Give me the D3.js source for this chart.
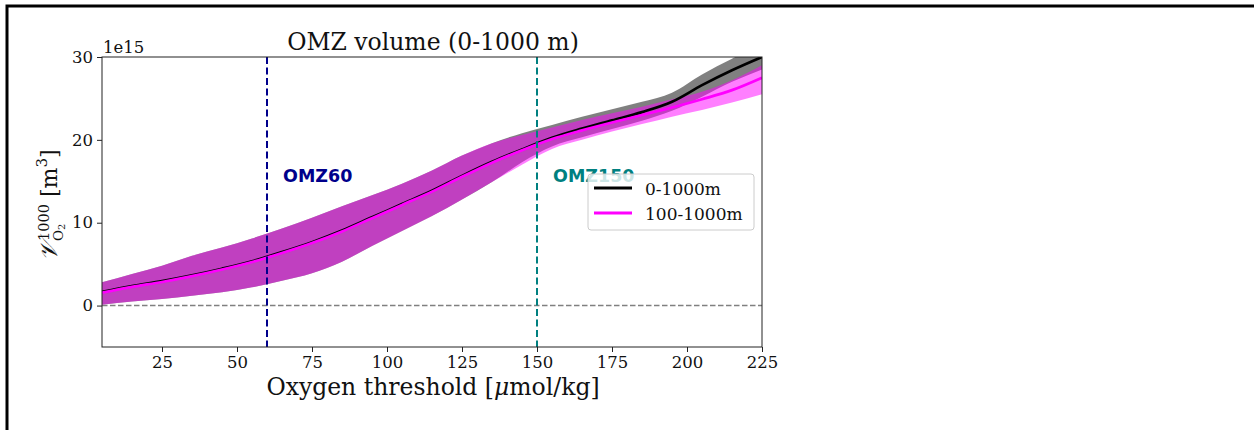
<!DOCTYPE html>
<html>
<head>
<meta charset="utf-8">
<script src="https://cdn.jsdelivr.net/npm/d3@7"></script>
<style>
  html, body { margin: 0; padding: 0; background: #fff; }
  svg { display: block; }
</style>
</head>
<body>
<div id="chart"></div>
<script>
// --- data (values in 1e15 m^3) ---
const thresholds = [5, 15, 25, 35, 45, 55, 65, 75, 85, 95, 105, 115, 125, 135, 145, 155, 165, 175, 185, 195, 205, 215, 225];

// 0-1000m
const fullMean  = [1.65, 2.35, 2.95, 3.65, 4.45, 5.35, 6.45, 7.65, 9.05, 10.65, 12.25, 13.85, 15.65, 17.35, 18.85, 20.25, 21.35, 22.35, 23.35, 24.6, 26.6, 28.4, 30.0];
const fullLow   = [0.1, 0.5, 0.8, 1.2, 1.6, 2.2, 3.0, 3.9, 5.3, 7.2, 9.0, 10.8, 12.8, 14.9, 17.3, 19.2, 20.3, 21.3, 22.3, 23.5, 25.2, 27.0, 28.5];
const fullHigh  = [2.8, 3.8, 4.8, 6.0, 7.0, 8.1, 9.3, 10.6, 12.0, 13.3, 14.7, 16.3, 18.1, 19.6, 20.8, 21.8, 22.8, 23.7, 24.6, 25.7, 27.9, 29.8, 31.5];

// 100-1000m
const subMean   = [1.55, 2.25, 2.85, 3.55, 4.35, 5.25, 6.35, 7.55, 8.95, 10.55, 12.15, 13.75, 15.55, 17.25, 18.75, 20.1, 21.15, 22.1, 23.0, 23.9, 24.9, 26.0, 27.5];
const subLow    = [0.1, 0.5, 0.8, 1.2, 1.6, 2.2, 3.0, 3.9, 5.3, 7.2, 9.0, 10.8, 12.8, 14.9, 17.0, 18.9, 20.0, 21.0, 21.9, 22.8, 23.6, 24.5, 25.5];
const subHigh   = [2.8, 3.8, 4.8, 6.0, 7.0, 8.1, 9.3, 10.6, 12.0, 13.3, 14.7, 16.3, 18.1, 19.6, 20.6, 21.5, 22.4, 23.2, 24.0, 24.9, 25.8, 27.2, 29.0];

const xTicks = [25, 50, 75, 100, 125, 150, 175, 200, 225];
const yTicks = [0, 10, 20, 30];
const omzLines = [60, 150];
const omzNames = ["OMZ60", "OMZ150"];
const omzColors = ["#00008b", "#008080"];
const legendNames = ["0-1000m", "100-1000m"];
const legendColors = ["#000000", "#ff00ff"];

// --- layout ---
const W = 1254, H = 430;
const axL = 102, axR = 762, axT = 57, axB = 347;
const serif = "'DejaVu Serif', serif";
const sans = "'DejaVu Sans', sans-serif";

const svg = d3.select("#chart").append("svg").attr("width", W).attr("height", H);

// outer frame
svg.append("rect").attr("x", 7).attr("y", 6).attr("width", W + 20).attr("height", H + 20)
   .attr("fill", "none").attr("stroke", "#000").attr("stroke-width", 3);

const x = d3.scaleLinear().domain([5, 225]).range([axL, axR]);
const y = d3.scaleLinear().domain([-5, 30]).range([axB, axT]);

const plot = svg.append("g");
plot.append("clipPath").attr("id", "clip")
    .append("rect").attr("x", axL).attr("y", axT).attr("width", axR - axL).attr("height", axB - axT);
const area = plot.append("g").attr("clip-path", "url(#clip)");

// zero line
area.append("line").attr("x1", axL).attr("x2", axR).attr("y1", y(0)).attr("y2", y(0))
    .attr("stroke", "#808080").attr("stroke-width", 1.5).attr("stroke-dasharray", "5.5,2.5");

function band(lo, hi) {
    return d3.area().x((d, i) => x(thresholds[i])).y0((d, i) => y(lo[i])).y1((d, i) => y(hi[i]))
             .curve(d3.curveMonotoneX)(thresholds);
}
function line(vals) {
    return d3.line().x((d, i) => x(thresholds[i])).y((d, i) => y(vals[i]))
             .curve(d3.curveMonotoneX)(thresholds);
}

area.append("path").attr("d", band(fullLow, fullHigh)).attr("fill", "#808080");
area.append("path").attr("d", band(subLow, subHigh)).attr("fill", "#ff00ff").attr("fill-opacity", 0.5);
area.append("path").attr("d", line(fullMean)).attr("fill", "none").attr("stroke", "#000").attr("stroke-width", 2.7);
area.append("path").attr("d", line(subMean)).attr("fill", "none").attr("stroke", "#ff00ff").attr("stroke-width", 2.7);

// OMZ threshold lines
omzLines.forEach((v, i) => {
    area.append("line").attr("x1", x(v)).attr("x2", x(v)).attr("y1", axT).attr("y2", axB)
        .attr("stroke", omzColors[i]).attr("stroke-width", 2).attr("stroke-dasharray", "7,3.5");
    plot.append("text").attr("x", x(v) + 16).attr("y", 182)
        .attr("font-family", sans).attr("font-weight", "bold").attr("font-size", 17.5)
        .attr("fill", omzColors[i]).text(omzNames[i]);
});

// spines
plot.append("rect").attr("x", axL).attr("y", axT).attr("width", axR - axL).attr("height", axB - axT)
    .attr("fill", "none").attr("stroke", "#222").attr("stroke-width", 1);

// axes
const xAxis = svg.append("g").attr("transform", `translate(0,${axB})`)
    .call(d3.axisBottom(x).tickValues(xTicks).tickSize(5).tickPadding(4));
const yAxis = svg.append("g").attr("transform", `translate(${axL},0)`)
    .call(d3.axisLeft(y).tickValues(yTicks).tickSize(5).tickPadding(4));
[xAxis, yAxis].forEach(a => {
    a.select(".domain").remove();
    a.selectAll(".tick line").attr("stroke", "#222").attr("stroke-width", 1);
    a.selectAll(".tick text").attr("font-family", serif).attr("font-size", 16.5).attr("fill", "#111");
});

svg.append("text").attr("x", axL + 1).attr("y", 53).attr("font-family", serif).attr("font-size", 16.5)
   .attr("fill", "#111").text("1e15");

// title
svg.append("text").attr("x", 433).attr("y", 50).attr("text-anchor", "middle")
   .attr("font-family", serif).attr("font-size", 23.5).attr("fill", "#111").text("OMZ volume (0-1000 m)");

// x label
const xl = svg.append("text").attr("x", 433).attr("y", 395).attr("text-anchor", "middle")
   .attr("font-family", serif).attr("font-size", 23.5).attr("fill", "#111");
xl.append("tspan").text("Oxygen threshold [");
xl.append("tspan").attr("font-style", "italic").text("\u03bc");
xl.append("tspan").text("mol/kg]");

// y label (rotated)
const yl = svg.append("g").attr("transform", "translate(57,202) rotate(-90)")
    .attr("font-family", serif).attr("fill", "#111");
yl.append("text").attr("x", -59).attr("y", 0).attr("font-size", 24).attr("font-style", "italic").text("\u{1D4B1}");
yl.append("text").attr("x", -39).attr("y", -8).attr("font-size", 14.5).text("1000");
const sub = yl.append("text").attr("x", -39).attr("y", 6).attr("font-size", 13.5);
sub.append("tspan").text("O");
sub.append("tspan").attr("font-size", 10).attr("dy", 2).text("2");
const unit = yl.append("text").attr("x", 5).attr("y", 0).attr("font-size", 22);
unit.append("tspan").text("[m");
unit.append("tspan").attr("font-size", 15).attr("dy", -10).text("3");
unit.append("tspan").attr("dy", 10).text("]");

// legend
const lg = svg.append("g").attr("transform", "translate(588,174)");
lg.append("rect").attr("width", 166).attr("height", 56).attr("rx", 3)
  .attr("fill", "#fff").attr("fill-opacity", 0.8).attr("stroke", "#ccc").attr("stroke-width", 1);
legendNames.forEach((n, i) => {
    const yy = 14 + i * 25;
    lg.append("line").attr("x1", 6).attr("x2", 44).attr("y1", yy).attr("y2", yy)
      .attr("stroke", legendColors[i]).attr("stroke-width", 3);
    lg.append("text").attr("x", 57).attr("y", yy + 7).attr("font-family", serif).attr("font-size", 17)
      .attr("fill", "#111").text(n);
});
</script>
</body>
</html>
